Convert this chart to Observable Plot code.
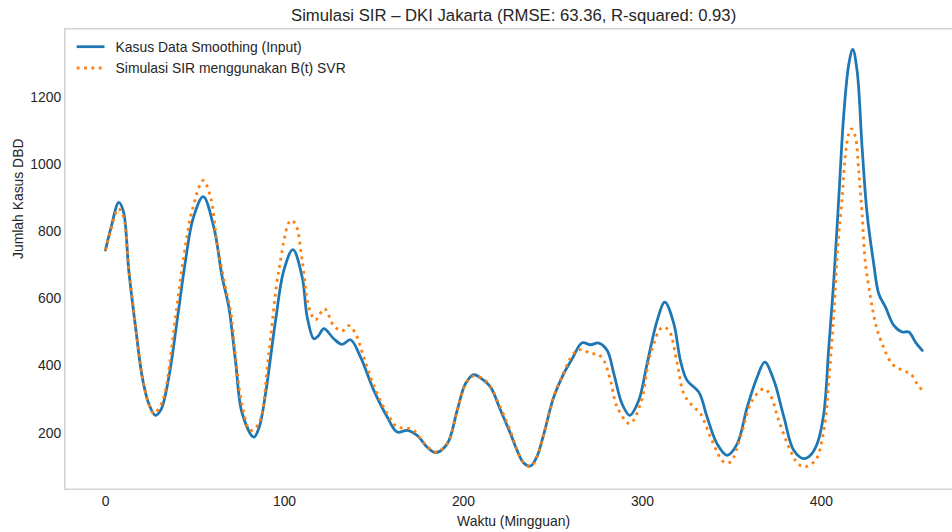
<!DOCTYPE html>
<html>
<head>
<meta charset="utf-8">
<script src="https://cdn.jsdelivr.net/npm/d3@7"></script>
<script src="https://cdn.jsdelivr.net/npm/@observablehq/plot@0.6"></script>
<style>
html, body { margin: 0; padding: 0; background: #fff; overflow: hidden; width: 952px; height: 532px; }
#wrap { position: relative; width: 952px; height: 532px; overflow: hidden; }
#wrap svg { max-width: none !important; height: auto; display: block; }
#wrap svg.legend { position: absolute; left: 0; top: 0; }
</style>
</head>
<body>
<div id="wrap"></div>
<script>
const titleText = "Simulasi SIR – DKI Jakarta (RMSE: 63.36, R-squared: 0.93)";
const xLabel = "Waktu (Mingguan)";
const yLabel = "Jumlah Kasus DBD";
const seriesNames = ["Kasus Data Smoothing (Input)", "Simulasi SIR menggunakan B(t) SVR"];
const seriesColors = ["#1f77b4", "#ff7f0e"];
const xTicks = [0, 100, 200, 300, 400];
const yTicks = [200, 400, 600, 800, 1000, 1200];

// Kasus Data Smoothing (Input)
const weeksInput = [0, 3, 7.4, 10, 13, 16.8, 20.5, 24, 27.9, 31, 35.4, 40, 44.7, 49, 54.6, 60.5, 65.2, 68.9, 72.6, 76.4, 82.9, 86, 89.4, 95, 99.6, 104.7, 109.9, 112.7, 116.4, 119, 122, 127.5, 132.2, 136.9, 142.5, 149.9, 157.4, 163, 168.5, 174.1, 179.7, 184.4, 190.9, 196.5, 201.1, 205.8, 210, 215.1, 220.7, 226.3, 230, 233.5, 237.4, 241, 244.9, 250.4, 256, 260.7, 266.3, 270.9, 275.6, 280.3, 284, 288.6, 292.9, 297.9, 302.6, 308.2, 312.5, 317.5, 321.2, 324.9, 331.5, 336.1, 341.7, 347.3, 352.9, 358.5, 364.1, 368.3, 373.4, 379, 384.5, 390.1, 394, 397.6, 401.3, 404.1, 406.9, 409.7, 412.5, 415.3, 417.5, 419.9, 422.7, 425.5, 429.2, 432, 435.8, 440.4, 445.1, 448.8, 452.5, 456.3];
const casesInput = [745, 810, 887, 860, 684, 515, 367, 290, 253, 270, 367, 535, 714, 840, 904, 813, 664, 575, 416, 258, 188, 220, 317, 535, 684, 746, 664, 545, 481, 490, 511, 481, 464, 478, 426, 327, 248, 203, 208, 193, 158, 142, 168, 268, 347, 374, 362, 337, 268, 198, 148, 112, 102, 130, 198, 307, 377, 421, 469, 463, 468, 446, 377, 287, 253, 297, 407, 535, 590, 526, 416, 357, 322, 248, 168, 134, 168, 277, 367, 411, 357, 248, 149, 124, 135, 168, 258, 456, 654, 902, 1151, 1299, 1342, 1279, 1051, 853, 704, 615, 575, 521, 501, 501, 471, 446];

// Simulasi SIR menggunakan B(t) SVR
const weeksSim = [0, 3, 7.1, 10, 13, 16.8, 20.5, 24, 27, 31, 33.5, 39.1, 43.7, 48.4, 54.6, 58.7, 62.4, 67, 70, 72.6, 76.4, 81, 85.6, 91.2, 96.8, 103.4, 106.1, 109.9, 113.6, 117.3, 122.3, 127.5, 132.2, 135.9, 139.7, 144.3, 150, 157.4, 163, 168.5, 172.2, 178, 184.4, 190.9, 196.5, 201.1, 205.8, 213.2, 220.7, 226.3, 230, 233.5, 237.4, 241, 244.9, 250.4, 256, 260, 263.5, 267.2, 270.9, 274.7, 278.4, 282.1, 285.9, 292.9, 298.9, 304.5, 311, 314.7, 319.4, 323.1, 327.8, 332.4, 338, 345.4, 349.2, 354.7, 361.3, 367.8, 371.5, 376.1, 381.8, 386, 390.1, 396.6, 401.3, 404.1, 406.9, 409.1, 411.6, 413.4, 415.3, 416.8, 419, 420.8, 422.7, 424.6, 427.4, 430.2, 433.9, 439.5, 445.1, 449.7, 453.4, 456.3];
const casesSim = [745, 805, 868, 845, 690, 520, 370, 290, 258, 285, 327, 545, 724, 863, 952, 902, 764, 634, 560, 430, 280, 208, 228, 436, 684, 833, 823, 714, 575, 537, 570, 520, 504, 520, 496, 426, 340, 258, 218, 215, 208, 170, 144, 168, 268, 345, 370, 352, 275, 205, 150, 112, 100, 128, 198, 307, 380, 425, 446, 448, 436, 436, 416, 357, 277, 228, 287, 436, 515, 506, 407, 317, 282, 258, 188, 114, 114, 188, 297, 332, 312, 238, 158, 115, 99, 119, 208, 357, 555, 754, 902, 1031, 1091, 1106, 1081, 982, 853, 704, 605, 526, 466, 406, 387, 377, 347, 327];

const inputData = weeksInput.map((w, i) => ({week: w, cases: casesInput[i]}));
const simData = weeksSim.map((w, i) => ({week: w, cases: casesSim[i]}));

const font = "'Liberation Sans', Arial, sans-serif";
const ink = "#262626";
const lw = 2.78;

const chart = Plot.plot({
  width: 962,
  height: 532,
  marginLeft: 64.2,
  marginRight: 0,
  marginTop: 28.3,
  marginBottom: 43.3,
  style: {fontFamily: font, fontSize: "13.9px", color: ink, background: "#fff", overflow: "visible", maxWidth: "none"},
  x: {domain: [-22.8, 478.8], ticks: xTicks, tickSize: 0, tickPadding: 7, tickFormat: d => String(d), label: null},
  y: {domain: [33, 1403.6], ticks: yTicks, tickSize: 0, tickPadding: 3.5, tickFormat: d => String(d), label: null},
  marks: [
    Plot.frame({stroke: "#cccccc", strokeWidth: 1.25}),
    Plot.line(inputData, {x: "week", y: "cases", stroke: seriesColors[0], strokeWidth: lw, curve: "catmull-rom"}),
    Plot.line(simData, {x: "week", y: "cases", stroke: seriesColors[1], strokeWidth: lw, strokeDasharray: "2.78,4.58", strokeLinecap: "butt", curve: "catmull-rom"}),
    Plot.text([titleText], {frameAnchor: "top", lineAnchor: "bottom", dy: -8.3, fontSize: 16.7, fill: ink}),
    Plot.text([xLabel], {frameAnchor: "bottom", lineAnchor: "bottom", dy: 36.3, fontSize: 13.9, fill: ink}),
    Plot.text([yLabel], {frameAnchor: "left", lineAnchor: "bottom", rotate: -90, dx: -41.5, fontSize: 13.9, fill: ink})
  ]
});
chart.style.maxWidth = "none";
chart.style.width = "962px";
chart.style.height = "532px";

const wrap = document.getElementById("wrap");
wrap.appendChild(chart);

// Legend (upper left, inside axes)
const leg = d3.select(wrap).append("svg")
  .attr("class", "legend")
  .attr("width", 400).attr("height", 90)
  .style("font-family", font).style("font-size", "13.9px");
const rowsY = [46.7, 68.0];
seriesNames.forEach((name, i) => {
  const y = rowsY[i];
  leg.append("line")
    .attr("x1", 76.7).attr("x2", 104.5).attr("y1", y).attr("y2", y)
    .attr("stroke", seriesColors[i]).attr("stroke-width", lw)
    .attr("stroke-dasharray", i === 1 ? "2.78,4.58" : null);
  leg.append("text")
    .attr("x", 115.6).attr("y", y).attr("dy", "0.35em")
    .attr("fill", ink).text(name);
});
</script>
</body>
</html>
